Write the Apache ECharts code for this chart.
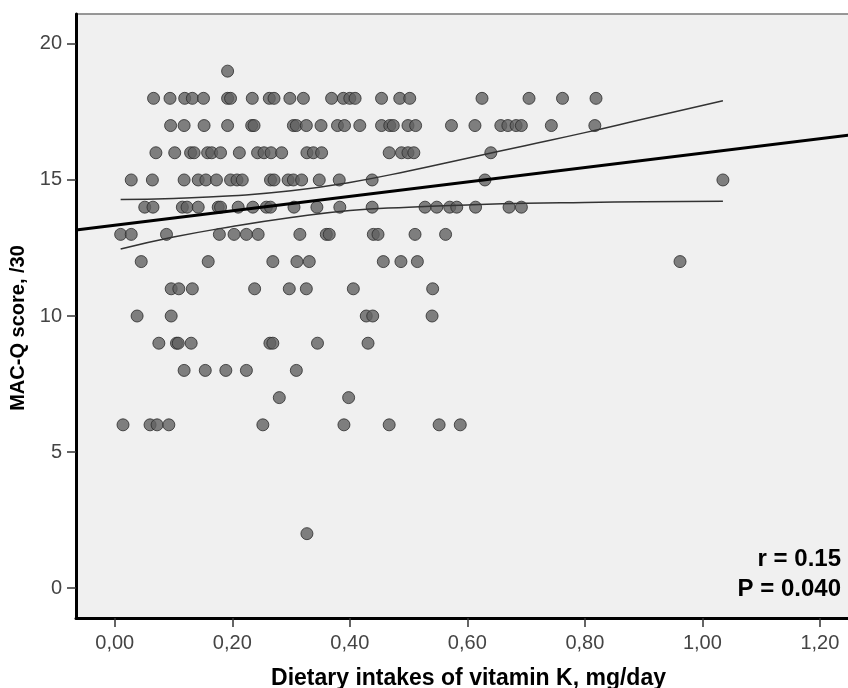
<!DOCTYPE html>
<html>
<head>
<meta charset="utf-8">
<script src="https://cdn.jsdelivr.net/npm/echarts@6/dist/echarts.min.js"></script>
<style>
  html, body { margin: 0; padding: 0; background: #fff; }
  #chart { width: 848px; height: 688px; }
</style>
</head>
<body>
<div id="chart"></div>
<script>
// intake (mg/day) of every subject, grouped by MAC-Q score
const at19 = [0.192]
const at18 = [0.066, 0.094, 0.119, 0.132, 0.151, 0.192, 0.197, 0.234, 0.263, 0.271, 0.298, 0.321, 0.369, 0.389, 0.400, 0.409, 0.454, 0.485, 0.502, 0.625, 0.705, 0.762, 0.819]
const at17 = [0.095, 0.118, 0.152, 0.192, 0.233, 0.237, 0.304, 0.309, 0.326, 0.351, 0.379, 0.391, 0.417, 0.454, 0.468, 0.474, 0.499, 0.512, 0.573, 0.613, 0.657, 0.669, 0.683, 0.692, 0.743, 0.817]
const at16 = [0.070, 0.102, 0.129, 0.135, 0.158, 0.165, 0.180, 0.212, 0.243, 0.254, 0.266, 0.284, 0.327, 0.338, 0.352, 0.467, 0.488, 0.499, 0.509, 0.640]
const at15 = [0.028, 0.064, 0.118, 0.142, 0.155, 0.173, 0.197, 0.208, 0.217, 0.265, 0.271, 0.295, 0.304, 0.318, 0.348, 0.382, 0.438, 0.630, 1.035]
const at14 = [0.051, 0.065, 0.115, 0.123, 0.142, 0.176, 0.180, 0.210, 0.235, 0.258, 0.265, 0.305, 0.344, 0.383, 0.438, 0.528, 0.548, 0.570, 0.582, 0.614, 0.671, 0.692]
const at13 = [0.010, 0.028, 0.088, 0.178, 0.203, 0.224, 0.244, 0.315, 0.360, 0.365, 0.440, 0.448, 0.511, 0.563]
const at12 = [0.045, 0.159, 0.269, 0.310, 0.331, 0.457, 0.487, 0.515, 0.962]
const at11 = [0.096, 0.109, 0.132, 0.238, 0.297, 0.326, 0.406, 0.541]
const at10 = [0.038, 0.096, 0.428, 0.439, 0.540]
const at9 = [0.075, 0.105, 0.108, 0.130, 0.264, 0.269, 0.345, 0.431]
const at8 = [0.118, 0.154, 0.189, 0.224, 0.309]
const at7 = [0.280, 0.398]
const at6 = [0.014, 0.060, 0.072, 0.092, 0.252, 0.390, 0.467, 0.552, 0.588]
const at2 = [0.327]

const scoreRows = [
  [19, at19], [18, at18], [17, at17], [16, at16], [15, at15], [14, at14], [13, at13],
  [12, at12], [11, at11], [10, at10], [9, at9], [8, at8], [7, at7], [6, at6], [2, at2]
]

// fit line ends and 95% band
const fitX = [-0.066, 1.27]
const fitY = [13.16, 16.70]
const bandX = [0.010, 0.100, 0.200, 0.300, 0.400, 0.500, 0.600, 0.700, 0.800, 0.900, 1.035]
const bandUpper = [14.28, 14.32, 14.42, 14.60, 14.91, 15.33, 15.80, 16.27, 16.74, 17.24, 17.91]
const bandLower = [12.46, 12.90, 13.29, 13.62, 13.88, 14.00, 14.08, 14.14, 14.17, 14.20, 14.22]

const xTicks = [0, 0.2, 0.4, 0.6, 0.8, 1.0, 1.2]
const yTicks = [0, 5, 10, 15, 20]

const points = []
scoreRows.forEach(([score, list]) => {
  list.forEach(x => points.push([x, score]))
})

const chart = echarts.init(document.getElementById('chart'))

const labelFont = 'Liberation Sans, Arial, sans-serif'

chart.setOption({
  animation: false,
  backgroundColor: '#ffffff',
  grid: {
    left: 76, top: 14, right: -13, bottom: 70,
    outerBoundsMode: 'none',
    containLabel: false,
    show: true,
    backgroundColor: '#f0f0f0',
    borderColor: '#777777',
    borderWidth: 1.5
  },
  xAxis: {
    type: 'value',
    min: -0.066,
    max: 1.27,
    name: 'Dietary intakes of vitamin K, mg/day',
    nameLocation: 'middle',
    nameGap: 49,
    nameTextStyle: { fontFamily: labelFont, fontWeight: 'bold', fontSize: 23, color: '#000' },
    splitLine: { show: false },
    axisLine: { show: true, onZero: false, lineStyle: { color: '#000', width: 3 } },
    axisTick: { show: true, length: 9, customValues: xTicks, lineStyle: { color: '#333', width: 1.5 } },
    axisLabel: {
      customValues: xTicks,
      margin: 15,
      fontFamily: labelFont, fontSize: 20, color: '#444',
      formatter: v => v.toFixed(2).replace('.', ',')
    }
  },
  yAxis: {
    type: 'value',
    min: -1.1,
    max: 21.1,
    name: 'MAC-Q score, /30',
    nameLocation: 'middle',
    nameGap: 44,
    nameTextStyle: { fontFamily: labelFont, fontWeight: 'bold', fontSize: 20, color: '#000', padding: [0, 24, 0, 0] },
    splitLine: { show: false },
    axisLine: { show: true, onZero: false, lineStyle: { color: '#000', width: 3 } },
    axisTick: { show: true, length: 9, customValues: yTicks, lineStyle: { color: '#333', width: 1.5 } },
    axisLabel: {
      customValues: yTicks,
      margin: 14,
      fontFamily: labelFont, fontSize: 20, color: '#444'
    }
  },
  series: [
    {
      type: 'scatter',
      data: points,
      symbol: 'circle',
      symbolSize: 12,
      itemStyle: { color: '#616161', borderColor: '#2b2b2b', borderWidth: 1 },
      z: 2
    },
    {
      type: 'line',
      data: fitX.map((x, i) => [x, fitY[i]]),
      symbol: 'none',
      lineStyle: { color: '#000', width: 3 },
      z: 4
    },
    {
      type: 'line',
      data: bandX.map((x, i) => [x, bandUpper[i]]),
      symbol: 'none',
      smooth: true,
      lineStyle: { color: '#333', width: 1.5 },
      z: 3
    },
    {
      type: 'line',
      data: bandX.map((x, i) => [x, bandLower[i]]),
      symbol: 'none',
      smooth: true,
      lineStyle: { color: '#333', width: 1.5 },
      z: 3
    }
  ],
  graphic: [
    {
      type: 'text', right: 7, top: 547, z: 10,
      style: { text: 'r = 0.15', fill: '#000', font: 'bold 24px ' + labelFont, textAlign: 'right' }
    },
    {
      type: 'text', right: 7, top: 577, z: 10,
      style: { text: 'P = 0.040', fill: '#000', font: 'bold 24px ' + labelFont, textAlign: 'right' }
    }
  ]
})
</script>
</body>
</html>
